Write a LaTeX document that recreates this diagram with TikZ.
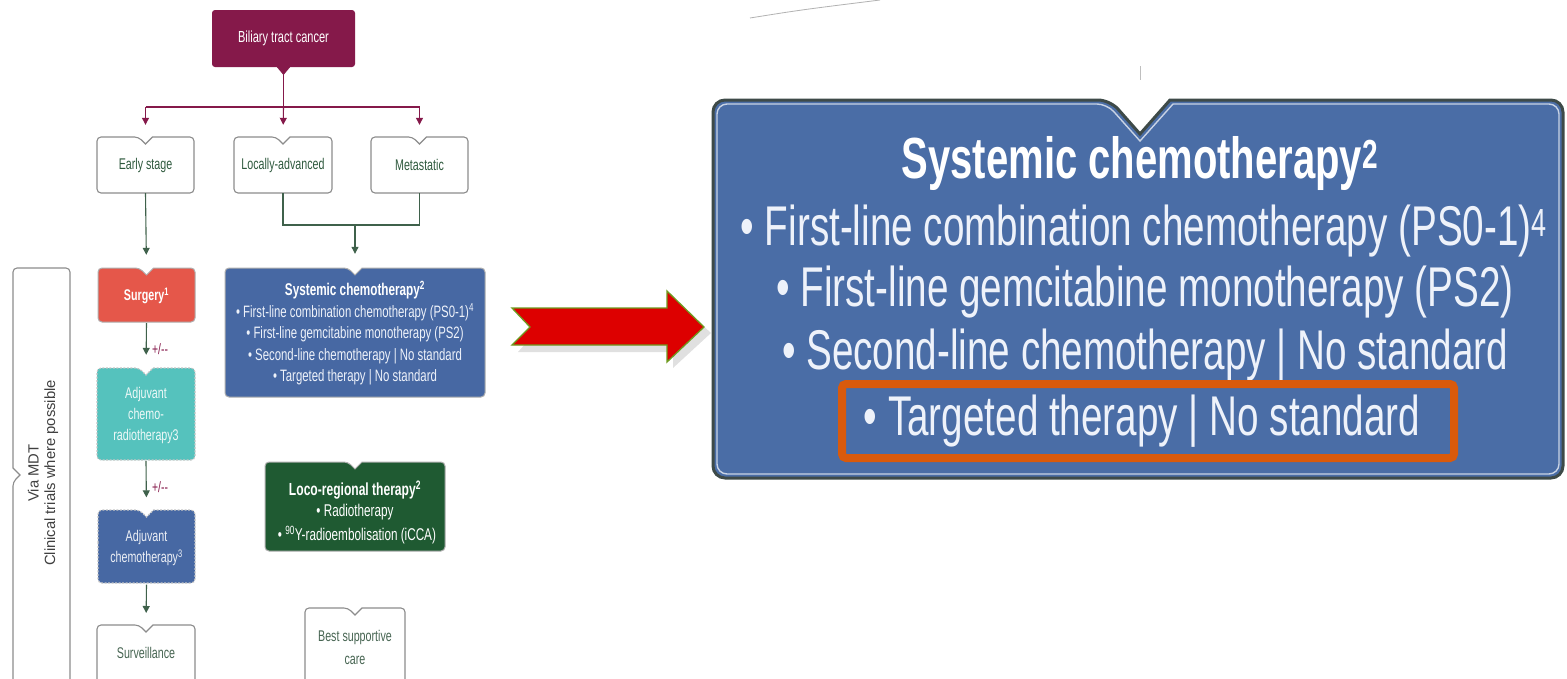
\documentclass[tikz,border=0pt]{standalone}
\usepackage{fontspec}
\setmainfont{Liberation Sans}
\newfontfamily\cond[FakeStretch=0.69]{Liberation Sans}
\usetikzlibrary{arrows.meta}
\definecolor{maroon}{HTML}{85194A}
\definecolor{dgreen}{HTML}{2F5A3E}
\definecolor{boxgray}{HTML}{8C8C8C}
\definecolor{surgred}{HTML}{E5574A}
\definecolor{teal}{HTML}{55C2BD}
\definecolor{sblue}{HTML}{4768A3}
\definecolor{bblue}{HTML}{4A6DA6}
\definecolor{locogreen}{HTML}{1F5A32}
\definecolor{orangebox}{HTML}{D95A0C}
\definecolor{arrred}{HTML}{DD0000}
\definecolor{arrgreen}{HTML}{6E9B1E}
\definecolor{txtwhite}{HTML}{EEF2FA}
\definecolor{bigborder}{HTML}{3E4A48}
\newcommand\nbox[5]{%
  \pgfmathsetmacro\xm{(#2+#4)/2}%
  \draw[#1, rounded corners=4pt] (#2,{(#3+#5)/2}) -- (#2,#3) -- ({\xm-7},#3) [sharp corners] -- (\xm,{#3+7}) -- ({\xm+7},#3) [rounded corners=4pt] -- (#4,#3) -- (#4,#5) -- (#2,#5) -- cycle;%
}
\tikzset{
  every node/.style={inner sep=0pt, font=\cond},
  gbox/.style={draw=boxgray, line width=1.1pt, fill=white},
  mline/.style={draw=maroon, line width=1.1pt},
  marr/.style={draw=maroon, line width=1.1pt, -{Triangle[width=7pt,length=7pt]}, shorten >=12pt},
  gline/.style={draw=dgreen!80!gray, line width=1.1pt},
  garr/.style={draw=dgreen!80!gray, line width=1.1pt, -{Triangle[width=7pt,length=7pt]}, shorten >=14pt},
  smalltxt/.style={font=\cond\fontsize{15.5}{17}\selectfont},
  btxt/.style={font=\cond\fontsize{56}{64}\selectfont, text=txtwhite},
}
\begin{document}
\begin{tikzpicture}[x=1pt,y=-1pt]
\useasboundingbox (0,0) rectangle (1567,678);
\fill[white] (0,0) rectangle (1567,678);

% faint fragments at top
\draw[gray!60, line width=0.8pt] (750,18) .. controls (800,10) .. (880,0);
\draw[gray!50, line width=1pt] (1140,66) -- (1140,80);

% --- Biliary tract cancer
\fill[maroon, rounded corners=3pt] (212,10) rectangle (355,67);
\fill[maroon] (276,66) -- (283.5,75) -- (291,66) -- cycle;
\node[minimum width=143pt, minimum height=57pt, text=white, font=\cond\fontsize{16}{18}\selectfont] (btc) at (283.5,38.5) {Biliary tract cancer};

% --- three stage boxes
\nbox{gbox}{97}{137}{194}{193}
\nbox{gbox}{234}{137}{332}{193}
\nbox{gbox}{371}{137}{468}{193}
\node[minimum width=97pt, minimum height=56pt, text=dgreen, smalltxt] (early) at (145.5,165) {Early stage};
\node[minimum width=98pt, minimum height=56pt, text=dgreen, smalltxt] (locadv) at (283,165) {Locally-advanced};
\node[minimum width=97pt, minimum height=56pt, text=dgreen, smalltxt] (meta) at (419.5,165) {Metastatic};

\coordinate (split) at (283.5,107);
\coordinate (hl) at (145.5,107);
\coordinate (hr) at (419.5,107);
\draw[mline] (btc.south) -- (split);
\draw[mline] (hl) -- (hr);
\draw[marr] (hl) -- (early.north);
\draw[marr] (split) -- (locadv.north);
\draw[marr] (hr) -- (meta.north);

% --- Surgery column
\nbox{fill=surgred, draw=boxgray!70, line width=1pt}{98}{268}{195}{322}
\node[minimum width=97pt, minimum height=54pt, text=white, font=\cond\bfseries\fontsize{15.5}{17}\selectfont] (surg) at (146.5,296) {Surgery\textsuperscript{1}};

\nbox{fill=teal, draw=gray!45, line width=1.1pt, dash pattern=on 2pt off 1.5pt}{97}{368}{195}{460}
\node[minimum width=98pt, minimum height=92pt, text=white!90!teal, align=center, font=\cond\fontsize{15.5}{21}\selectfont] (acr) at (146,415) {Adjuvant\\chemo-\\radiotherapy3};

\nbox{fill=sblue, draw=gray!45, line width=1.1pt, dash pattern=on 2pt off 1.5pt}{98}{510}{195}{583}
\node[minimum width=97pt, minimum height=73pt, text=white!90!sblue, align=center, font=\cond\fontsize{15.5}{21}\selectfont] (ach) at (146.5,548) {Adjuvant\\chemotherapy\textsuperscript{3}};

\nbox{gbox}{97}{625}{195}{700}
\node[text=dgreen!70!gray, smalltxt] (surv) at (146,653) {Surveillance};
\coordinate (survtop) at (146,625);

\draw[garr] (early.south) -- (surg.north);
\draw[garr] (surg.south) -- (acr.north);
\node[text=maroon, font=\cond\fontsize{15}{17}\selectfont, anchor=west] (pm1) at (152,349) {+/--};
\draw[garr] (acr.south) -- (ach.north);
\node[text=maroon, font=\cond\fontsize{15}{17}\selectfont, anchor=west] (pm2) at (152,487) {+/--};
\draw[garr, shorten >=12pt] (ach.south) -- (survtop);

% --- Systemic chemotherapy (small)
\nbox{fill=sblue, draw=boxgray!70, line width=1pt}{225}{268}{485}{397}
\node[minimum width=260pt, minimum height=129pt] (sys) at (355,332.5) {};
\node[text=white, font=\cond\bfseries\fontsize{17}{19}\selectfont] (syst) at (355,290) {Systemic chemotherapy\textsuperscript{2}};
\node[text=txtwhite, font=\cond\fontsize{16.5}{18}\selectfont] (sys1) at (355,312) {• First-line combination chemotherapy (PS0-1)\textsuperscript{4}};
\node[text=txtwhite, font=\cond\fontsize{16.5}{18}\selectfont] (sys2) at (355,334) {• First-line gemcitabine monotherapy (PS2)};
\node[text=txtwhite, font=\cond\fontsize{16.5}{18}\selectfont] (sys3) at (355,356) {• Second-line chemotherapy | No standard};
\node[text=txtwhite, font=\cond\fontsize{16.5}{18}\selectfont] (sys4) at (355,377) {• Targeted therapy | No standard};

\coordinate (jl) at (283,225);
\coordinate (jr) at (419.5,225);
\coordinate (jm) at (355,225);
\draw[gline] (locadv.south) -- (jl) -- (jr) -- (meta.south);
\draw[garr] (jm) -- (sys.north);

% --- Loco-regional therapy
\nbox{fill=locogreen, draw=boxgray!70, line width=1pt}{265}{462}{445}{551}
\node[minimum width=180pt, minimum height=89pt] (loco) at (355,506.5) {};
\node[text=white, font=\cond\bfseries\fontsize{17.5}{19}\selectfont] (locot) at (355,490) {Loco-regional therapy\textsuperscript{2}};
\node[text=white, font=\cond\fontsize{17}{19}\selectfont] (loco1) at (355,512) {• Radiotherapy};
\node[text=white, font=\cond\fontsize{17}{19}\selectfont] (loco2) at (357,535) {• \textsuperscript{90}Y-radioembolisation (iCCA)};

% --- Best supportive care
\nbox{gbox}{305}{608}{405}{700}
\node[text=dgreen!70!gray, align=center, font=\cond\fontsize{15.5}{23}\selectfont] (bsc) at (355,647) {Best supportive\\care};

% --- left bracket box
\draw[draw=boxgray, line width=1.1pt, rounded corners=4pt] (13,600) -- (13,482) [sharp corners] -- (20,475) -- (13,468) [rounded corners=4pt] -- (13,268) -- (70,268) -- (70,700) -- (13,700) -- cycle;
\node[rotate=90, align=center, text=black!75, font=\fontsize{14.8}{16.5}\selectfont] (mdt) at (43,473) {Via MDT\\Clinical trials where possible};

% --- big red arrow
\fill[black, opacity=0.12] (518,314) -- (535,333) -- (518,352) -- (673,352) -- (673,368) -- (711,333) -- (673,298) -- (673,314) -- cycle;
\draw[draw=arrgreen, fill=arrred, line width=1.3pt, line join=miter] (512,308) -- (530,327) -- (512,345) -- (667,345) -- (667,362) -- (704,327) -- (667,291) -- (667,308) -- cycle;
\node (bigarrow) at (600,327) {};

% --- big Systemic chemotherapy box
\draw[draw=bigborder, fill=bblue, line width=3pt, rounded corners=12pt] (713,290) -- (713,100) -- (1110,100) [sharp corners] -- (1140,134) -- (1170,100) [rounded corners=12pt] -- (1563,100) -- (1563,478) -- (713,478) -- cycle;
\draw[draw=white!70!bblue, line width=1.4pt, rounded corners=10pt] (717,290) -- (717,104) -- (1107,104) [sharp corners] -- (1140,141) -- (1173,104) [rounded corners=10pt] -- (1559,104) -- (1559,474) -- (717,474) -- cycle;
\node[minimum width=850pt, minimum height=378pt] (bigsys) at (1138,289) {};
\node[text=white, font=\cond\bfseries\fontsize{58}{64}\selectfont] (bt) at (1140,163) {Systemic chemotherapy\textsuperscript{2}};
\node[btxt] (b1) at (1144,231) {• First-line combination chemotherapy (PS0-1)\textsuperscript{4}};
\node[btxt] (b2) at (1145,292) {• First-line gemcitabine monotherapy (PS2)};
\node[btxt] (b3) at (1145,355) {• Second-line chemotherapy | No standard};
\node[btxt] (b4) at (1142,421) {• Targeted therapy | No standard};

% orange highlight
\draw[draw=orangebox, line width=8pt, rounded corners=4pt] (842,384) rectangle (1454,458);
\end{tikzpicture}
\end{document}
